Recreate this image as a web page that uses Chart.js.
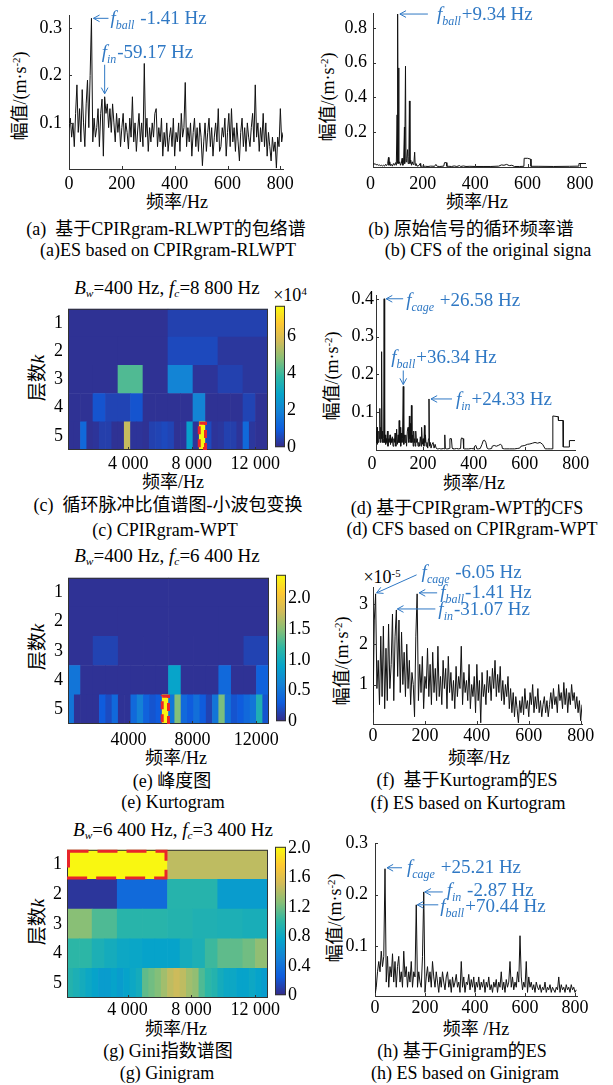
<!DOCTYPE html>
<html>
<head>
<meta charset="utf-8">
<script src="https://cdn.jsdelivr.net/npm/chart.js@4.4.0/dist/chart.umd.min.js"></script>
<style>
  body { margin: 0; background: #fff; width: 613px; height: 1085px; position: relative; overflow: hidden; }
  canvas { position: absolute; }
  .t { position: absolute; white-space: nowrap; font-family: 'Liberation Serif', 'Noto Sans CJK SC', serif;
       font-size: 18px; line-height: 1; color: #000; transform: translate(-50%, -50%); }
  .r { transform: translate(-50%, -50%) rotate(-90deg); }
  .h { font-size: 19px; }
  sup { font-size: 0.6em; vertical-align: 0.55em; line-height: 0; }
  sub { font-size: 0.6em; vertical-align: -0.3em; line-height: 0; }
</style>
</head>
<body>
<!-- (a) -->
<div class="t r" style="left:20px;top:96px">幅值/(m·s<sup>-2</sup>)</div>
<div class="t" style="left:177px;top:202px">频率/Hz</div>
<div class="t" style="left:166px;top:229px">(a)&nbsp; 基于CPIRgram-RLWPT的包络谱</div>
<div class="t" style="left:168px;top:250px">(a)ES based on CPIRgram-RLWPT</div>
<!-- (b) -->
<div class="t r" style="left:328px;top:97px">幅值/(m·s<sup>-2</sup>)</div>
<div class="t" style="left:477px;top:202px">频率/Hz</div>
<div class="t" style="left:471px;top:229px">(b) 原始信号的循环频率谱</div>
<div class="t" style="left:488px;top:250px">(b) CFS of the original signa</div>
<!-- (c) -->
<div class="t h" style="left:167px;top:287px"><i>B</i><sub><i>w</i></sub>=400 Hz, <i>f</i><sub><i>c</i></sub>=8 800 Hz</div>
<div class="t r h" style="left:37px;top:378px">层数<i>k</i></div>
<div class="t" style="left:173px;top:482px">频率/Hz</div>
<div class="t" style="left:290px;top:295px">×10<sup>4</sup></div>
<div class="t" style="left:168px;top:505px">(c)&nbsp; 循环脉冲比值谱图-小波包变换</div>
<div class="t" style="left:165px;top:530px">(c) CPIRgram-WPT</div>
<!-- (d) -->
<div class="t r" style="left:332px;top:376px">幅值/(m·s<sup>-2</sup>)</div>
<div class="t" style="left:474px;top:483px">频率/Hz</div>
<div class="t" style="left:467px;top:508px">(d) 基于CPIRgram-WPT的CFS</div>
<div class="t" style="left:472px;top:529px">(d) CFS based on CPIRgram-WPT</div>
<!-- (e) -->
<div class="t h" style="left:167px;top:555px"><i>B</i><sub><i>w</i></sub>=400 Hz, <i>f</i><sub><i>c</i></sub>=6 400 Hz</div>
<div class="t r h" style="left:37px;top:647px">层数<i>k</i></div>
<div class="t" style="left:176px;top:758px">频率/Hz</div>
<div class="t" style="left:172px;top:781px">(e) 峰度图</div>
<div class="t" style="left:173px;top:802px">(e) Kurtogram</div>
<!-- (f) -->
<div class="t" style="left:382px;top:577px">×10<sup>-5</sup></div>
<div class="t r" style="left:342px;top:661px">幅值/(m·s<sup>-2</sup>)</div>
<div class="t" style="left:479px;top:758px">频率/Hz</div>
<div class="t" style="left:467px;top:780px">(f)&nbsp; 基于Kurtogram的ES</div>
<div class="t" style="left:468px;top:803px">(f) ES based on Kurtogram</div>
<!-- (g) -->
<div class="t h" style="left:173px;top:829px"><i>B</i><sub><i>w</i></sub>=6 400 Hz, <i>f</i><sub><i>c</i></sub>=3 400 Hz</div>
<div class="t r h" style="left:37px;top:922px">层数<i>k</i></div>
<div class="t" style="left:176px;top:1029px">频率/Hz</div>
<div class="t" style="left:168px;top:1051px">(g) Gini指数谱图</div>
<div class="t" style="left:167px;top:1073px">(g) Ginigram</div>
<!-- (h) -->
<div class="t r" style="left:335px;top:918px">幅值/(m·s<sup>-2</sup>)</div>
<div class="t" style="left:476px;top:1029px">频率 /Hz</div>
<div class="t" style="left:462px;top:1051px">(h) 基于Ginigram的ES</div>
<div class="t" style="left:465px;top:1073px">(h) ES based on Ginigram</div>

<script>
// ---- data ----
// (a) envelope spectrum, CPIRgram-RLWPT, 5 Hz grid from 0 Hz
const stepA = 5;
const ampA = [
  0.09, 0.11, 0.07, 0.1, 0.05, 0.12, 0.18, 0.08, 0.13, 0.06,
  0.17, 0.1, 0.05, 0.14, 0.19, 0.09, 0.2, 0.32, 0.06, 0.11,
  0.07, 0.09, 0.13, 0.05, 0.12, 0.15, 0.03, 0.155, 0.12, 0.14,
  0.09, 0.13, 0.08, 0.14, 0.1, 0.06, 0.12, 0.08, 0.11, 0.05,
  0.09, 0.12, 0.06, 0.1, 0.08, 0.045, 0.11, 0.07, 0.155, 0.06,
  0.1, 0.04, 0.085, 0.12, 0.06, 0.1, 0.05, 0.225, 0.07, 0.11,
  0.04, 0.09, 0.06, 0.1, 0.07, 0.12, 0.13, 0.05, 0.09, 0.06,
  0.11, 0.03, 0.08, 0.05, 0.1, 0.04, 0.07, 0.09, 0.05, 0.11,
  0.03, 0.08, 0.06, 0.1, 0.04, 0.12, 0.07, 0.09, 0.185, 0.05,
  0.09, 0.06, 0.1, 0.03, 0.08, 0.11, 0.05, 0.09, 0.04, 0.1,
  0.07, 0.01, 0.06, 0.1, 0.04, 0.08, 0.11, 0.05, 0.09, 0.03,
  0.07, 0.1, 0.06, 0.13, 0.04, 0.05, 0.09, 0.07, 0.11, 0.03,
  0.08, 0.12, 0.05, 0.13, 0.06, 0.09, 0.04, 0.1, 0.06, 0.02,
  0.08, 0.11, 0.05, 0.09, 0.04, 0.1, 0.07, 0.05, 0.09, 0.12,
  0.06, 0.18, 0.07, 0.1, 0.04, 0.09, 0.06, 0.12, 0.05, 0.1,
  0.03, 0.08, 0.05, 0.02, 0.07, 0.04, 0.06, 0.005, 0.07, 0.05,
  0.13, 0.06, 0.08
];

// (b) cyclic frequency spectrum of the raw signal
const freqB = [10, 14, 18, 22, 26, 30, 34, 38, 42, 46, 50, 54, 58, 62, 66, 69, 71, 74, 77, 80, 84, 88, 92, 96, 99,
  102, 103, 105, 106, 108, 109, 112, 115, 118, 121, 124, 127, 130, 131, 134, 136, 139, 142, 144, 147, 149, 151,
  154, 157, 160, 163, 166, 169, 171, 174, 178, 185, 190, 192, 200, 210, 220, 230, 245, 250, 255, 265, 280, 283,
  290, 292, 300, 310, 320, 330, 340, 345, 355, 365, 380, 400, 430, 460, 490, 500, 510, 520, 530, 540, 550, 570,
  586, 587, 600, 612, 613, 640, 700, 760, 795, 796, 823];
const ampB = [0.02, 0.015, 0.02, 0.012, 0.015, 0.01, 0.012, 0.008, 0.01, 0.006, 0.01, 0.005, 0.015, 0.008, 0.02,
  0.055, 0.01, 0.03, 0.008, 0.015, 0.005, 0.02, 0.01, 0.025, 0.01,
  0.3, 0.02, 0.88, 0.03, 0.57, 0.02, 0.03, 0.01, 0.02, 0.05, 0.01, 0.04, 0.23, 0.02, 0.58, 0.03, 0.05, 0.1, 0.02,
  0.06, 0.38, 0.02, 0.04, 0.01, 0.03, 0.015, 0.02, 0.085, 0.01, 0.02, 0.005, 0.008, 0.02, 0.004, 0.005, 0.004,
  0.003, 0.005, 0.004, 0.015, 0.004, 0.003, 0.005, 0.025, 0.025, 0.004, 0.004, 0.003, 0.006, 0.003, 0.008, 0.003,
  0.006, 0.003, 0.004, 0.003, 0.003, 0.003, 0.005, 0.012, 0.01, 0.015, 0.008, 0.01, 0.003, 0.003,
  0.004, 0.05, 0.05, 0.045, 0.004, 0.004, 0.003, 0.004, 0.005, 0.02, 0.02];

// (d) CFS based on CPIRgram-WPT
const freqD = [16, 18, 20, 21, 23, 25, 27, 29, 31, 33, 35, 37, 38, 40, 42, 44, 46, 48, 50, 52, 54, 56, 58, 61, 63,
  66, 68, 71, 73, 75, 78, 80, 83, 86, 88, 91, 94, 97, 100, 103, 105, 107, 109, 111, 113, 115, 118, 120, 123, 125,
  128, 130, 133, 136, 139, 142, 145, 147, 149, 151, 153, 155, 157, 160, 162, 164, 166, 168, 170, 172, 175, 178,
  181, 184, 187, 190, 193, 195, 198, 201, 204, 206, 208, 210, 213, 216, 219, 222, 224, 226, 229, 232, 236, 240,
  244, 248, 252, 256, 260, 265, 270, 275, 280, 284, 286, 288, 292, 298, 304, 306, 312, 315, 318, 325, 332, 340,
  348, 350, 352, 358, 360, 362, 370, 380, 390, 400, 403, 408, 412, 418, 425, 432, 437, 442, 447, 452, 456, 462,
  470, 472, 480, 488, 496, 504, 510, 512, 520, 530, 540, 550, 560, 570, 580, 585, 600, 610, 620, 630, 640, 650,
  660, 670, 680, 690, 700, 709, 710, 731, 732, 750, 751, 774, 775, 797];
const ampD = [0.05, 0.02, 0.06, 0.015, 0.04, 0.02, 0.05, 0.03, 0.11, 0.02, 0.06, 0.03, 0.26, 0.02, 0.05, 0.02,
  0.03, 0.40, 0.02, 0.04, 0.015, 0.03, 0.02, 0.05, 0.01,
  0.03, 0.02, 0.04, 0.015, 0.03, 0.02, 0.035, 0.01, 0.03, 0.02, 0.045, 0.01, 0.055, 0.015, 0.04, 0.02, 0.078,
  0.02, 0.06, 0.01, 0.045, 0.02, 0.03, 0.168, 0.015,
  0.04, 0.02, 0.04, 0.01, 0.05, 0.06, 0.02, 0.09, 0.03, 0.07, 0.02, 0.118, 0.02, 0.04, 0.01, 0.05, 0.02, 0.03,
  0.01, 0.05, 0.02, 0.03,
  0.01, 0.02, 0.01, 0.035, 0.01, 0.06, 0.015, 0.03, 0.01, 0.065, 0.02, 0.04, 0.01, 0.02, 0.005, 0.03, 0.135,
  0.01, 0.02, 0.005, 0.015, 0.02,
  0.005, 0.015, 0.005, 0.003, 0.003, 0.004, 0.003, 0.003, 0.004, 0.003, 0.04, 0.004, 0.003, 0.003, 0.004, 0.03,
  0.03, 0.005, 0.003, 0.003, 0.004, 0.003,
  0.004, 0.03, 0.032, 0.03, 0.004, 0.003, 0.003, 0.003, 0.004, 0.003, 0.01, 0.012, 0.003, 0.003, 0.004, 0.015,
  0.025, 0.026, 0.02, 0.005, 0.003, 0.003,
  0.004, 0.01, 0.012, 0.01, 0.012, 0.015, 0.012, 0.004, 0.003, 0.003, 0.003, 0.003, 0.003, 0.004, 0.005, 0.01,
  0.012, 0.015, 0.016, 0.018, 0.02, 0.018,
  0.02, 0.015, 0.003, 0.003, 0.003, 0.003, 0.09, 0.088, 0.078, 0.078, 0.008, 0.008, 0.025, 0.025];

// (f) ES based on Kurtogram (x 1e-5), 5 Hz grid from 0 Hz
const stepF = 5;
const ampF = [
  0.3, 2.6, 3.25, 0.9, 1.6, 0.5, 2.2, 0.7, 2.45, 0.4,
  1.9, 0.6, 2.5, 0.9, 1.5, 2.75, 0.6, 2.2, 2.85, 1.2,
  2.6, 0.8, 2.3, 1.0, 1.8, 0.7, 2.0, 0.9, 1.6, 0.5,
  1.3, 1.0, 0.2, 2.2, 3.25, 0.6, 1.5, 0.8, 1.7, 0.4,
  1.2, 0.9, 1.9, 0.7, 1.5, 0.5, 1.8, 0.8, 1.4, 0.6,
  1.95, 0.7, 1.2, 0.5, 1.6, 0.9, 1.4, 0.4, 1.7, 0.8,
  1.3, 0.6, 1.1, 0.4, 1.45, 0.7, 1.2, 0.9, 1.95, 0.5,
  1.3, 0.8, 1.1, 0.6, 1.5, 0.4, 1.0, 0.7, 1.2, 0.3,
  1.5, 0.6, 1.1, 0.05, 1.3, 0.7, 1.0, 0.5, 1.35, 0.8,
  1.2, 0.6, 1.4, 0.9, 1.6, 0.7, 1.25, 0.8, 1.45, 0.6,
  1.1, 0.5, 1.0, 0.7, 1.2, 0.4, 0.9, 0.3, 0.8, 0.2,
  0.7, 0.4, 0.05, 0.6, 0.3, 0.7, 0.25, 0.9, 0.4, 0.6,
  0.2, 0.8, 0.5, 1.0, 0.3, 0.7, 0.4, 0.9, 0.3, 0.6,
  0.2, 0.5, 0.7, 0.3, 0.6, 0.2, 0.5, 0.8, 0.4, 0.9,
  0.5, 0.7, 0.3, 1.0, 0.6, 0.8, 0.4, 1.05, 0.5, 0.9,
  0.3, 0.8, 0.5, 1.0, 0.6, 0.8, 0.4, 0.7, 0.3, 0.6,
  0.1, 0.5
];

// (h) ES based on Ginigram, 5 Hz grid from 0 Hz
const stepH = 5;
const ampH = [
  0.005, 0.02, 0.05, 0.07, 0.05, 0.09, 0.06, 0.08, 0.25, 0.03,
  0.08, 0.02, 0.06, 0.04, 0.085, 0.03, 0.07, 0.02, 0.06, 0.08,
  0.03, 0.05, 0.02, 0.09, 0.04, 0.06, 0.02, 0.05, 0.03, 0.07,
  0.02, 0.05, 0.04, 0.18, 0.02, 0.05, 0.03, 0.02, 0.08, 0.205,
  0.01, 0.04, 0.06, 0.03, 0.05, 0.02, 0.07, 0.04, 0.02, 0.05,
  0.03, 0.01, 0.04, 0.02, 0.05, 0.03, 0.015, 0.04, 0.05, 0.02,
  0.035, 0.01, 0.04, 0.02, 0.03, 0.045, 0.02, 0.03, 0.01, 0.07,
  0.02, 0.04, 0.01, 0.03, 0.025, 0.045, 0.015, 0.035, 0.02, 0.04,
  0.01, 0.03, 0.02, 0.04, 0.015, 0.03, 0.02, 0.035, 0.01, 0.03,
  0.02, 0.04, 0.015, 0.025, 0.01, 0.03, 0.02, 0.035, 0.01, 0.03,
  0.02, 0.05, 0.015, 0.03, 0.01, 0.035, 0.02, 0.03, 0.07, 0.02,
  0.04, 0.015, 0.03, 0.02, 0.05, 0.03, 0.12, 0.04, 0.015, 0.03,
  0.02, 0.07, 0.01, 0.04, 0.02, 0.03, 0.015, 0.025, 0.01, 0.03,
  0.02, 0.015, 0.025, 0.01, 0.02, 0.015, 0.03, 0.01, 0.02, 0.015,
  0.025, 0.01, 0.02, 0.015, 0.01, 0.02, 0.015, 0.04, 0.01, 0.025,
  0.015, 0.02, 0.01, 0.025, 0.015, 0.02, 0.01, 0.025, 0.015, 0.02,
  0.01, 0.015
];

// heatmaps: one row per level k, 2^k bands each
const LEVELS = ['1', '2', '3', '4', '5'];
const BAND_MIN = 200, BAND_MAX = 12800;
const cpirC = [
  [0.15, 0.45],
  [0.15, 0.15, 0.6, 0.25],
  [0.15, 0.15, 4.2, 0.15, 2.0, 0.2, 0.45, 0.25],
  [0.15, 0.15, 0.8, 0.5, 0.5, 0.8, 0.15, 0.15, 0.15, 0.15, 2.0, 0.15, 0.15, 0.15, 0.5, 0.15],
  [0.15, 0.15, 1.3, 0.15, 0.2, 0.4, 0.4, 0.15, 0.15, 5.6, 0.2, 0.2, 0.15, 0.45, 0.5, 0.6,
   0.5, 0.15, 0.2, 2.8, 0.2, 7.6, 0.6, 0.2, 0.25, 0.45, 0.4, 0.2, 1.3, 0.25, 0.15, 0.15]
];
const kurtE = [
  [0.05, 0.05],
  [0.05, 0.05, 0.05, 0.05],
  [0.05, 0.15, 0.05, 0.05, 0.05, 0.05, 0.05, 0.15],
  [0.5, 0.05, 0.05, 0.05, 0.05, 0.05, 0.05, 0.05, 0.9, 0.05, 0.05, 0.05, 0.4, 0.05, 0.05, 0.35],
  [0.5, 0.05, 0.05, 0.05, 0.05, 0.3, 0.2, 0.4, 0.05, 0.05, 0.4, 0.6, 0.35, 0.25, 0.3, 2.35,
   0.5, 1.48, 0.4, 0.3, 0.45, 0.3, 0.15, 0.5, 1.45, 0.45, 0.25, 0.3, 0.4, 0.5, 1.08, 0.25]
];
const giniG = [
  [2.0, 1.45],
  [0.06, 0.35, 0.96, 0.7],
  [1.27, 1.1, 0.97, 0.97, 0.95, 0.92, 0.9, 0.88],
  [1.0, 1.0, 0.9, 0.85, 0.8, 0.78, 0.75, 0.75, 0.75, 0.85, 0.9, 1.05, 1.15, 1.15, 1.2, 1.3],
  [0.95, 0.9, 0.85, 0.8, 0.75, 0.7, 0.7, 0.75, 0.7, 0.75, 0.8, 0.85, 1.15, 1.2, 1.25, 1.35,
   1.45, 1.5, 1.45, 1.35, 1.3, 1.1, 1.0, 0.95, 0.85, 0.8, 0.8, 0.75, 0.75, 0.8, 0.75, 0.7]
];

// tick labels
const xTicksHz = [0, 200, 400, 600, 800];
const xTicksBand = [4000, 8000, 12000];

// ---- helpers ----
const FONT = "'Liberation Serif', 'Noto Sans CJK SC', serif";
const BLUE = '#2f78c4';
Chart.defaults.font.family = FONT;
Chart.defaults.font.size = 18;
Chart.defaults.color = '#000';

const parulaStops = [[0, '#352a87'], [0.125, '#0f5cdd'], [0.25, '#1481d6'], [0.375, '#06a4ca'], [0.5, '#2eb7a4'],
  [0.625, '#87bf77'], [0.75, '#d1bb59'], [0.875, '#fec832'], [1, '#f9fb0e']];

function hex(h) { return [1, 3, 5].map(i => parseInt(h.substr(i, 2), 16)); }

function parula(t) {
  t = Math.max(0, Math.min(1, t));
  for (let i = 1; i < parulaStops.length; i++) {
    const [t1, c1] = parulaStops[i];
    if (t <= t1) {
      const [t0, c0] = parulaStops[i - 1];
      const u = (t - t0) / (t1 - t0), a = hex(c0), b = hex(c1);
      return 'rgb(' + a.map((v, k) => Math.round(v + (b[k] - v) * u)).join(',') + ')';
    }
  }
  return parulaStops[parulaStops.length - 1][1];
}

function makeCanvas(x, y, w, h) {
  const c = document.createElement('canvas');
  c.width = w; c.height = h;
  c.style.left = x + 'px'; c.style.top = y + 'px';
  c.style.width = w + 'px'; c.style.height = h + 'px';
  document.body.appendChild(c);
  return c;
}

const spaced = v => String(v).replace(/\B(?=(\d{3})+$)/g, ' ');

// short inward tick marks, matlab style
const inTicks = {
  id: 'inTicks',
  afterDraw(chart) {
    const { ctx, chartArea: a, scales } = chart;
    ctx.save();
    ctx.strokeStyle = '#333';
    ctx.lineWidth = 1;
    ctx.beginPath();
    scales.x.ticks.forEach(t => {
      const p = Math.round(scales.x.getPixelForValue(t.value)) + 0.5;
      if (p < a.left || p > a.right) return;
      ctx.moveTo(p, a.bottom); ctx.lineTo(p, a.bottom - 3);
    });
    if (scales.y.type !== 'category') {
      scales.y.ticks.forEach(t => {
        const p = Math.round(scales.y.getPixelForValue(t.value)) + 0.5;
        if (p < a.top - 1 || p > a.bottom) return;
        ctx.moveTo(a.left, p); ctx.lineTo(a.left + 3, p);
      });
    }
    ctx.stroke();
    ctx.restore();
  }
};

const boxBorder = {
  id: 'boxBorder',
  afterDraw(chart) {
    const { ctx, chartArea: a } = chart;
    ctx.save();
    ctx.strokeStyle = '#333';
    ctx.lineWidth = 1;
    ctx.strokeRect(a.left + 0.5, a.top + 0.5, a.right - a.left - 1, a.bottom - a.top - 1);
    ctx.restore();
  }
};

function notesPlugin(list) {
  return {
    id: 'notes',
    afterDraw(chart) {
      const { ctx, scales: { x, y } } = chart;
      ctx.save();
      ctx.strokeStyle = BLUE; ctx.fillStyle = BLUE; ctx.lineWidth = 1;
      list.forEach(n => {
        const sx = x.getPixelForValue(n.fx) + n.ox, sy = y.getPixelForValue(n.fy) + n.oy;
        const ex = sx + n.ax, ey = sy + n.ay;
        const ang = Math.atan2(ey - sy, ex - sx);
        ctx.beginPath();
        ctx.moveTo(sx, sy); ctx.lineTo(ex, ey);
        [0.5, -0.5].forEach(d => {
          ctx.moveTo(sx, sy);
          ctx.lineTo(sx + 7 * Math.cos(ang + d), sy + 7 * Math.sin(ang + d));
        });
        ctx.stroke();
        let tx = sx + n.tx;
        const ty = sy + n.ty;
        [['f', 'italic 19px ', 0], [n.sub, 'italic 12px ', 5], [n.txt, '19px ', 0]].forEach(([s, f, dy]) => {
          ctx.font = f + FONT;
          ctx.fillText(s, tx, ty + dy);
          tx += ctx.measureText(s).width + (dy ? 1 : 0);
        });
      });
      ctx.restore();
    }
  };
}

function lineChart(area, freq, amp, xr, yr, yTicks, yFmt, pads, notes) {
  const [l, t, r, b] = area;
  const cv = makeCanvas(l - 60, t - 30, r - l + 95, b - t + 60);
  return new Chart(cv, {
    type: 'line',
    data: { datasets: [{ data: freq.map((f, i) => ({ x: f, y: amp[i] })), borderColor: '#111', borderWidth: 1,
      pointRadius: 0, tension: 0 }] },
    options: {
      responsive: false, animation: false, devicePixelRatio: 1,
      layout: { padding: { left: 5, top: 30, right: 35, bottom: 0 } },
      plugins: { legend: { display: false }, tooltip: { enabled: false } },
      scales: {
        x: {
          type: 'linear', min: xr[0], max: xr[1],
          afterBuildTicks: s => { s.ticks = xTicksHz.map(v => ({ value: v })); },
          afterFit: s => { s.height = 30; },
          grid: { display: false, drawTicks: false },
          border: { color: '#333' },
          ticks: { padding: pads[0], maxRotation: 0, autoSkip: false, callback: v => String(v) }
        },
        y: {
          min: yr[0], max: yr[1],
          afterBuildTicks: s => { s.ticks = yTicks.map(v => ({ value: v })); },
          afterFit: s => { s.width = 55; },
          grid: { display: false, drawTicks: false },
          border: { color: '#333' },
          ticks: { padding: pads[1], autoSkip: false, callback: yFmt }
        }
      }
    },
    plugins: [inTicks, notesPlugin(notes)]
  });
}

function pickPlugin(p) {
  return {
    id: 'pick',
    afterDraw(chart) {
      const { ctx, chartArea: a, scales: { x, y } } = chart;
      const rowH = (a.bottom - a.top) / LEVELS.length;
      const w = (BAND_MAX - BAND_MIN) / Math.pow(2, p.level);
      const cy = y.getPixelForValue(p.level - 1);
      const x0 = x.getPixelForValue(BAND_MIN + p.band * w), x1 = x.getPixelForValue(BAND_MIN + (p.band + 1) * w);
      ctx.save();
      ctx.strokeStyle = '#e8262a'; ctx.lineWidth = 3;
      ctx.setLineDash(p.dash);
      ctx.strokeRect(x0 + p.inset, cy - rowH / 2 + 1.5, x1 - x0 - 2 * p.inset, rowH - 3);
      ctx.restore();
    }
  };
}

function heatmap(area, levels, vmax, xFmt, xPad, pick) {
  const [l, t, r, b] = area;
  const cv = makeCanvas(l - 60, t - 10, r - l + 95, b - t + 40);
  const cells = [], colors = [];
  levels.forEach((row, k) => {
    const w = (BAND_MAX - BAND_MIN) / row.length;
    row.forEach((v, j) => {
      cells.push({ x: [BAND_MIN + j * w, BAND_MIN + (j + 1) * w], y: LEVELS[k] });
      colors.push(parula(v / vmax));
    });
  });
  return new Chart(cv, {
    type: 'bar',
    data: { labels: LEVELS, datasets: [{ data: cells, backgroundColor: colors, borderWidth: 0,
      barPercentage: 1, categoryPercentage: 1 }] },
    options: {
      indexAxis: 'y', responsive: false, animation: false, devicePixelRatio: 1,
      layout: { padding: { left: 5, top: 10, right: 35, bottom: 0 } },
      plugins: { legend: { display: false }, tooltip: { enabled: false } },
      scales: {
        x: {
          type: 'linear', min: BAND_MIN, max: BAND_MAX,
          afterBuildTicks: s => { s.ticks = xTicksBand.map(v => ({ value: v })); },
          afterFit: s => { s.height = 30; },
          grid: { display: false, drawTicks: false },
          border: { display: false },
          ticks: { padding: xPad, maxRotation: 0, autoSkip: false, callback: xFmt }
        },
        y: {
          type: 'category',
          afterFit: s => { s.width = 55; },
          grid: { display: false, drawTicks: false },
          border: { display: false },
          ticks: { padding: 5 }
        }
      }
    },
    plugins: [boxBorder, inTicks, pickPlugin(pick)]
  });
}

function colorbar(area, vmax, ticks, fmt) {
  const [l, t, r, b] = area;
  const cv = makeCanvas(l, t - 10, r - l + 35, b - t + 20);
  return new Chart(cv, {
    type: 'bar',
    data: { labels: ['cb'], datasets: [{
      data: [[0, vmax]], borderWidth: 0, barPercentage: 1, categoryPercentage: 1,
      backgroundColor: c => {
        const a = c.chart.chartArea;
        if (!a) return '#352a87';
        const g = c.chart.ctx.createLinearGradient(0, a.bottom, 0, a.top);
        parulaStops.forEach(([s, col]) => g.addColorStop(s, col));
        return g;
      }
    }] },
    options: {
      responsive: false, animation: false, devicePixelRatio: 1,
      layout: { padding: { left: 0, top: 10, right: 0, bottom: 10 } },
      plugins: { legend: { display: false }, tooltip: { enabled: false } },
      scales: {
        x: { display: false },
        y: {
          position: 'right', min: 0, max: vmax,
          afterBuildTicks: s => { s.ticks = ticks.map(v => ({ value: v })); },
          afterFit: s => { s.width = 35; },
          grid: { display: false, drawTicks: false },
          border: { display: false },
          ticks: { padding: 2, autoSkip: false, callback: fmt }
        }
      }
    },
    plugins: [boxBorder]
  });
}

// ---- panels ----
const fix1 = v => v.toFixed(1);

const notesA = [
  { fx: 85, fy: 0.32, sub: 'ball', txt: ' -1.41 Hz', ox: 2, oy: 0, ax: 15, ay: 0, tx: 17, ty: 6 },
  { fx: 135, fy: 0.155, sub: 'in', txt: '-59.17 Hz', ox: 0, oy: -3, ax: 0, ay: -29, tx: -3, ty: -36 }
];
const notesB = [
  { fx: 105, fy: 0.88, sub: 'ball', txt: '+9.34 Hz', ox: 2, oy: 0, ax: 28, ay: 0, tx: 37, ty: 6 }
];
const notesD = [
  { fx: 48, fy: 0.40, sub: 'cage', txt: ' +26.58 Hz', ox: 2, oy: 0, ax: 17, ay: 0, tx: 20, ty: 7 },
  { fx: 123, fy: 0.168, sub: 'ball', txt: '+36.34 Hz', ox: 0, oy: -2, ax: 0, ay: -14, tx: -12, ty: -21 },
  { fx: 224, fy: 0.135, sub: 'in', txt: '+24.33 Hz', ox: 2, oy: 0, ax: 21, ay: 0, tx: 25, ty: 6 }
];
const notesF = [
  { fx: 10, fy: 3.25, sub: 'cage', txt: ' -6.05 Hz', ox: 1, oy: -1, ax: 40, ay: -18, tx: 45, ty: -15 },
  { fx: 170, fy: 3.25, sub: 'ball', txt: '-1.41 Hz', ox: 2, oy: -1, ax: 18, ay: 0, tx: 21, ty: 5 },
  { fx: 90, fy: 2.85, sub: 'in', txt: '-31.07 Hz', ox: 1, oy: -1, ax: 38, ay: 0, tx: 41, ty: 6 }
];
const notesH = [
  { fx: 40, fy: 0.25, sub: 'cage', txt: ' +25.21 Hz', ox: 2, oy: -1, ax: 15, ay: 0, tx: 20, ty: 5 },
  { fx: 195, fy: 0.205, sub: 'in', txt: ' -2.87 Hz', ox: 1, oy: 0, ax: 18, ay: 0, tx: 22, ty: 4 },
  { fx: 165, fy: 0.18, sub: 'ball', txt: '+70.44 Hz', ox: 1, oy: 0, ax: 21, ay: 0, tx: 23, ty: 7 }
];

lineChart([69, 15, 283, 169], ampA.map((_, i) => i * stepA), ampA, [0, 810], [0.003, 0.327],
  [0.1, 0.2, 0.3], fix1, [4, 7], notesA);
lineChart([373, 13, 586, 167], freqB, ampB, [10, 823], [0, 0.886],
  [0.2, 0.4, 0.6, 0.8], fix1, [6, 6], notesB);
lineChart([376, 295, 575, 450], freqD, ampD, [16, 797], [0, 0.41],
  [0.1, 0.2, 0.3, 0.4], fix1, [3, 2], notesD);
lineChart([373, 587, 582, 724], ampF.map((_, i) => i * stepF), ampF, [0, 805], [0.02, 3.42],
  [1, 2, 3], v => String(v), [1, 5], notesF);
lineChart([375, 843, 577, 996], ampH.map((_, i) => i * stepH), ampH, [0, 808], [0.003, 0.3],
  [0.1, 0.2, 0.3], fix1, [1, 7], notesH);

heatmap([68, 303, 268, 450], cpirC, 7.66, spaced, 3, { level: 5, band: 21, dash: [8, 5], inset: 0 });
colorbar([275, 303, 285, 450], 7.66, [0, 2, 4, 6], v => String(v));

heatmap([68, 572, 269, 724], kurtE, 2.39, v => String(v), 5, { level: 5, band: 15, dash: [8, 5], inset: 0 });
colorbar([276, 572, 286, 724], 2.39, [0, 0.5, 1, 1.5, 2], v => (v === 0 ? '0' : v.toFixed(1)));

heatmap([67, 844, 268, 998], giniG, 2.02, spaced, 1, { level: 1, band: 0, dash: [20, 9], inset: 1.5 });
colorbar([275, 844, 286, 998], 2.02, [0, 0.4, 0.8, 1.2, 1.6, 2.0], v => (v === 0 ? '0' : v.toFixed(1)));
</script>
</body>
</html>
